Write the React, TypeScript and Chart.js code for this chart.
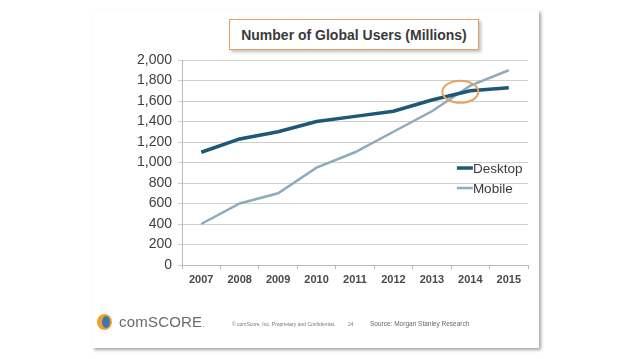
import React, { useEffect, useRef } from "react";
import { Chart, registerables } from "chart.js";

Chart.register(...registerables);

const years = ["2007", "2008", "2009", "2010", "2011", "2012", "2013", "2014", "2015"];
const desktopUsers = [1100, 1230, 1300, 1400, 1450, 1500, 1610, 1700, 1730];
const mobileUsers = [400, 600, 700, 950, 1100, 1300, 1500, 1750, 1900];
const yTicks = [0, 200, 400, 600, 800, 1000, 1200, 1400, 1600, 1800, 2000];
const seriesNames = ["Desktop", "Mobile"];
const seriesColors = ["#1d5876", "#8eaabd"];
// crossover highlight (category index, value)
const highlightAt = { index: 6.74, value: 1690 };

const FONT = "'Liberation Sans', Arial, sans-serif";

const overlayPlugin = {
  id: "overlay",
  afterDatasetsDraw(chart: any) {
    const { ctx, scales } = chart;
    const xs = scales.x;
    const ys = scales.y;
    // crossover ellipse
    const cx = xs.getPixelForValue(highlightAt.index);
    const cy = ys.getPixelForValue(highlightAt.value);
    ctx.save();
    ctx.beginPath();
    ctx.ellipse(cx, cy, 18, 11, 0, 0, Math.PI * 2);
    ctx.strokeStyle = "#e8a15c";
    ctx.lineWidth = 2;
    ctx.stroke();
    ctx.restore();

    // legend inside the plot
    ctx.save();
    ctx.font = `13.5px ${FONT}`;
    ctx.textBaseline = "middle";
    const lx = xs.getPixelForValue(6.65);
    chart.data.datasets.forEach((ds: any, i: number) => {
      const ly = ys.getPixelForValue(946 - i * 195);
      ctx.beginPath();
      ctx.moveTo(lx, ly);
      ctx.lineTo(lx + 16, ly);
      ctx.strokeStyle = ds.borderColor;
      ctx.lineWidth = ds.borderWidth;
      ctx.stroke();
      ctx.fillStyle = "#3a3a3a";
      ctx.fillText(ds.label, lx + 16, ly + 1);
    });
    ctx.restore();
  },
};

function ChartCanvas() {
  const ref = useRef<HTMLCanvasElement | null>(null);
  useEffect(() => {
    if (!ref.current) return;
    const chart = new Chart(ref.current, {
      type: "line",
      data: {
        labels: years,
        datasets: [
          {
            label: seriesNames[0],
            data: desktopUsers,
            borderColor: seriesColors[0],
            backgroundColor: seriesColors[0],
            borderWidth: 3.5,
            pointRadius: 0,
            tension: 0,
          },
          {
            label: seriesNames[1],
            data: mobileUsers,
            borderColor: seriesColors[1],
            backgroundColor: seriesColors[1],
            borderWidth: 2.5,
            pointRadius: 0,
            tension: 0,
          },
        ],
      },
      options: {
        animation: false,
        responsive: false,
        events: [],
        layout: { padding: { left: 132, top: 60, right: 110, bottom: 74 } },
        plugins: { legend: { display: false }, tooltip: { enabled: false }, title: { display: false } },
        scales: {
          x: {
            type: "category",
            offset: true,
            grid: {
              offset: true,
              drawOnChartArea: false,
              drawTicks: true,
              tickLength: 4,
              color: "#b8b8b8",
            },
            border: { color: "#b8b8b8" },
            ticks: {
              color: "#4a4a4a",
              font: { family: FONT, size: 11, weight: "bold" },
              padding: 4,
              maxRotation: 0,
            },
            afterFit: (s: any) => {
              s.height = 20;
            },
          },
          y: {
            min: 0,
            max: 2000,
            afterBuildTicks: (s: any) => {
              s.ticks = yTicks.map((v) => ({ value: v }));
            },
            grid: {
              color: "#cfcfcf",
              lineWidth: 1,
              drawTicks: true,
              tickLength: 4,
            },
            border: { color: "#b8b8b8" },
            ticks: {
              color: "#404040",
              font: { family: FONT, size: 14 },
              padding: 6,
              callback: (v: any) => Number(v).toLocaleString("en-US"),
            },
            afterFit: (s: any) => {
              s.width = 50;
            },
          },
        },
      },
      plugins: [overlayPlugin],
    });
    return () => chart.destroy();
  }, []);
  return <canvas ref={ref} width={638} height={359} style={{ position: "absolute", left: 0, top: 0 }} />;
}

export default function App() {
  useEffect(() => {
    document.body.style.margin = "0";
  }, []);
  return (
    <div style={{ position: "relative", width: 638, height: 359, background: "#fff", overflow: "hidden", fontFamily: FONT }}>
      <div
        style={{
          position: "absolute",
          left: 92,
          top: 10,
          width: 447,
          height: 338,
          background: "#fff",
          boxShadow: "2px 2px 3px rgba(0,0,0,0.35)",
        }}
      />
      <div
        style={{
          position: "absolute",
          left: 229,
          top: 19,
          width: 248,
          height: 29,
          border: "1.5px solid #e29f66",
          boxShadow: "2px 2px 3px rgba(0,0,0,0.25)",
          background: "#fff",
          display: "flex",
          alignItems: "center",
          justifyContent: "center",
          fontWeight: "bold",
          fontSize: 14,
          color: "#3a3a3a",
        }}
      >
        Number of Global Users (Millions)
      </div>
      <ChartCanvas />
      <div style={{ position: "absolute", left: 97, top: 314, width: 15, height: 16 }}>
        <div style={{ position: "absolute", left: 0, top: 0, width: 15, height: 16, borderRadius: "50%", background: "#f0a030" }} />
        <div style={{ position: "absolute", left: 5, top: 2, width: 8, height: 12, borderRadius: "50%", background: "#3a78b0" }} />
      </div>
      <div style={{ position: "absolute", left: 119, top: 313, fontSize: 15, color: "#6a6a6a", letterSpacing: 0.2 }}>
        comSCORE<span style={{ fontSize: 8 }}>.</span>
      </div>
      <div style={{ position: "absolute", left: 232, top: 321, fontSize: 5, color: "#777", whiteSpace: "nowrap" }}>
        © comScore, Inc. Proprietary and Confidential.
      </div>
      <div style={{ position: "absolute", left: 348, top: 321, fontSize: 5, color: "#777" }}>24</div>
      <div style={{ position: "absolute", left: 370, top: 320, fontSize: 6.5, color: "#666", whiteSpace: "nowrap" }}>
        Source: Morgan Stanley Research
      </div>
    </div>
  );
}
